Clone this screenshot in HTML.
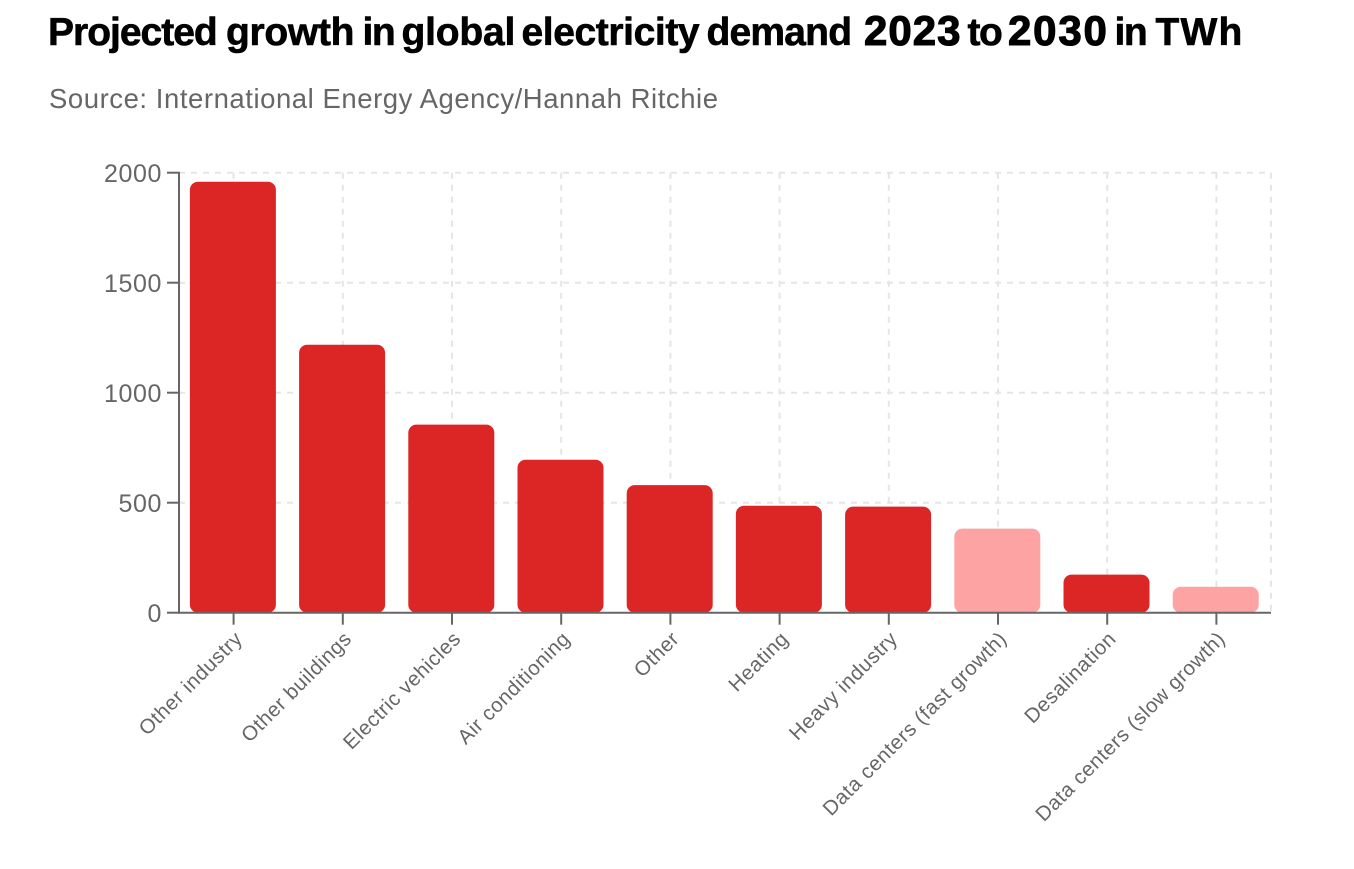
<!DOCTYPE html>
<html lang="en">
<head>
<meta charset="utf-8">
<title>Projected growth in global electricity demand</title>
<style>
html,body{margin:0;padding:0;background:#fff;width:1354px;height:869px;overflow:hidden}
svg{display:block;position:absolute;left:0;top:0}
text{font-family:"Liberation Sans",Arial,sans-serif}
</style>
</head>
<body>
<svg id="chart" width="1354" height="869" viewBox="0 0 1354 869">
<text y="45" font-size="39" font-weight="700" fill="#000" stroke="#000" stroke-width="0.6"><tspan x="48" letter-spacing="-1">Projected</tspan> <tspan x="226" letter-spacing="-0.3">growth</tspan> <tspan x="362.5" letter-spacing="-1.5">in</tspan> <tspan x="401.5" letter-spacing="-0.2">global</tspan> <tspan x="521.5" letter-spacing="-0.4">electricity</tspan> <tspan x="706.5" letter-spacing="-0.8">demand</tspan> <tspan x="864" font-size="42" stroke-width="1.1" letter-spacing="1">2023</tspan> <tspan x="967.5" letter-spacing="-1.5">to</tspan> <tspan x="1008" font-size="42" stroke-width="1.1" letter-spacing="1.8">2030</tspan> <tspan x="1114.5" letter-spacing="-1.5">in</tspan> <tspan x="1155.5" letter-spacing="1.2">TWh</tspan></text>
<text x="49" y="108" font-size="27.5" fill="#666" textLength="669" lengthAdjust="spacing">Source: International Energy Agency/Hannah Ritchie</text>
</svg>
<script>
const categories = ["Other industry","Other buildings","Electric vehicles","Air conditioning","Other","Heating","Heavy industry","Data centers (fast growth)","Desalination","Data centers (slow growth)"];
const seriesValues = [1959,1218,855,695,580,486,482,382,173,118];
const seriesKinds = ["solid","solid","solid","solid","solid","solid","solid","light","solid","light"];
const yTickValues = [0,500,1000,1500,2000];

const NS = "http://www.w3.org/2000/svg";
const svg = document.getElementById("chart");
const left = 179, right = 1271, top_ = 172.7, bottom = 612.7, yMax = 2000;
const band = (right - left) / categories.length;
const barW = 86;
const barShift = -0.7;
const xCenter = i => left + band * (i + 0.5);
const yScale = v => bottom - (v / yMax) * (bottom - top_);

function mk(tag, attrs) {
  const el = document.createElementNS(NS, tag);
  for (const k in attrs) el.setAttribute(k, attrs[k]);
  svg.appendChild(el);
  return el;
}
const gridStyle = {stroke:"#e5e5e5","stroke-width":2,"stroke-dasharray":"6 6",fill:"none"};
const axisStyle = {stroke:"#666","stroke-width":2,fill:"none"};

yTickValues.forEach(v => {
  const y = yScale(v);
  if (v !== 0) {
    const g = mk("line", {x1:left,x2:right,y1:y,y2:y,...gridStyle});
    
    
  }
});
categories.forEach((c, i) => {
  const x = xCenter(i);
  const g = mk("line", {x1:x,x2:x,y1:top_,y2:bottom,...gridStyle});
  
  
});
const edge = mk("line", {x1:right,x2:right,y1:top_,y2:bottom,...gridStyle});



function barPath(x, y, w, h, r) {
  const rr = Math.min(r, h / 2, w / 2);
  return `M${x} ${y+rr}a${rr} ${rr} 0 0 1 ${rr} ${-rr}h${w-2*rr}a${rr} ${rr} 0 0 1 ${rr} ${rr}v${h-2*rr}a${rr} ${rr} 0 0 1 ${-rr} ${rr}h${-(w-2*rr)}a${rr} ${rr} 0 0 1 ${-rr} ${-rr}z`;
}
seriesValues.forEach((v, i) => {
  const y = yScale(v);
  const b = mk("path", {d:barPath(xCenter(i)-barW/2+barShift, y, barW, bottom-y, 8), fill:seriesKinds[i]==="light"?"#fea3a3":"#dc2626"});
  
  
});

const yAxis = mk("line", {x1:left,x2:left,y1:top_-1,y2:bottom+1,...axisStyle});


const xAxis = mk("line", {x1:left,x2:right,y1:bottom,y2:bottom,...axisStyle});



yTickValues.forEach(v => {
  const y = yScale(v);
  const t = mk("line", {x1:167,x2:left,y1:y,y2:y,...axisStyle});
  
  
  const l = mk("text", {x:162,y:y+9.5,"text-anchor":"end","font-size":25,fill:"#666","letter-spacing":"0.6"});
  l.textContent = v;
  
  
});
categories.forEach((c, i) => {
  const x = xCenter(i);
  const t = mk("line", {x1:x,x2:x,y1:bottom,y2:bottom+12,...axisStyle});
  
  
  const lx = x + 10, ly = 640;
  const l = mk("text", {x:lx,y:ly,"text-anchor":"end","font-size":20.5,fill:"#666",transform:`rotate(-45 ${lx} ${ly})`,"letter-spacing":"0.55"});
  l.textContent = c;
  
  
});
</script>
</body>
</html>
